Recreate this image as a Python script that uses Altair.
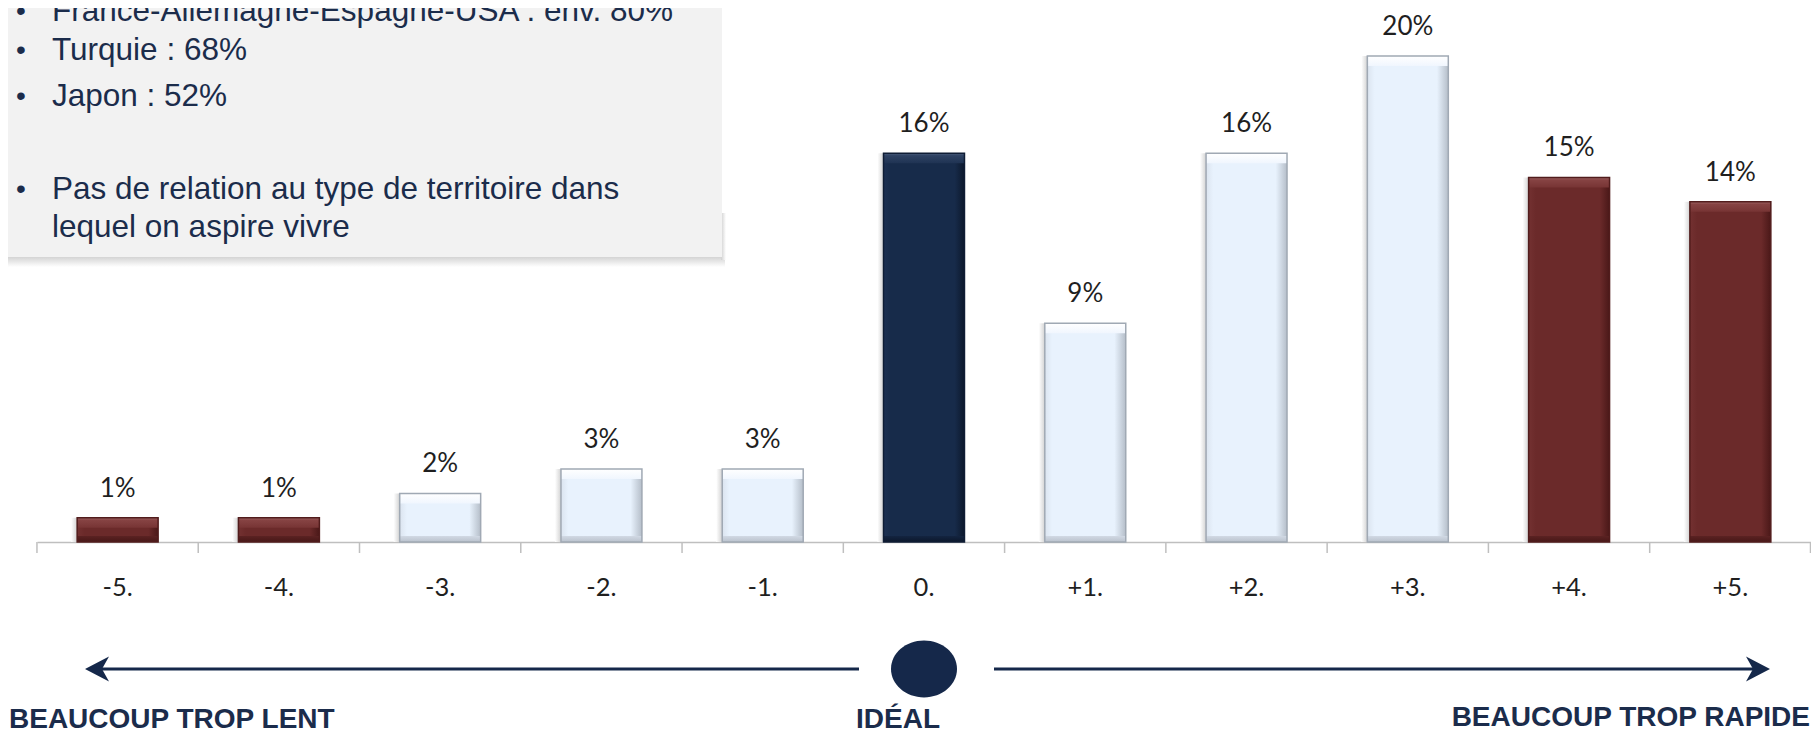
import altair as alt
import pandas as pd

# ---------------- data ----------------
levels = ["-5.", "-4.", "-3.", "-2.", "-1.", "0.", "+1.", "+2.", "+3.", "+4.", "+5."]
shares = [1, 1, 2, 3, 3, 16, 9, 16, 20, 15, 14]
share_labels = ["1%", "1%", "2%", "3%", "3%", "16%", "9%", "16%", "20%", "15%", "14%"]
box_lines = [
    "France-Allemagne-Espagne-USA : env. 80%",
    "Turquie : 68%",
    "Japon : 52%",
    "Pas de relation au type de territoire dans",
    "lequel on aspire vivre",
]
box_bullet_rows = [0, 1, 2, 3]
left_caption = "BEAUCOUP TROP LENT"
mid_caption = "IDÉAL"
right_caption = "BEAUCOUP TROP RAPIDE"


def group_of(i):
    d = abs(i - 5)
    if d == 0:
        return "ideal"
    if d >= 4:
        return "extreme"
    return "moderate"


df = pd.DataFrame({
    "level": levels,
    "share": shares,
    "label": share_labels,
    "group": [group_of(i) for i in range(len(levels))],
})

# ---------------- layout ----------------
W, H = 1774, 534
NAVY = "#15284a"
TEXT_NAVY = "#1b2c4b"

x_axis = alt.Axis(title=None, labelAngle=0, ticks=False, tickSize=0,
                  labelPadding=53, labelBaseline="alphabetic",
                  labelFont="Lato", labelFontSize=25.5, labelColor="#1f1f1f",
                  domainColor="#bfbfbf", domainWidth=1.5)
x_scale = alt.Scale(paddingInner=0.498, paddingOuter=0.249)
x_enc = alt.X("level:N", sort=levels, scale=x_scale, axis=x_axis)
y_enc = alt.Y("share:Q", scale=alt.Scale(domain=[0, 21.975], nice=False), axis=None)
base = alt.Chart(df)


def grad(stops, horizontal=True):
    return alt.Gradient(
        gradient="linear", x1=0, x2=1 if horizontal else 0, y1=0, y2=0 if horizontal else 1,
        stops=[alt.GradientStop(color=c, offset=o) for o, c in stops])


styles = {
    "moderate": dict(
        body=[(0, "#dbe4ef"), (0.09, "#e8f2fd"), (0.86, "#e8f2fd"), (1, "#b5bec9")],
        top=[(0, "#ffffff"), (1, "#f0f6fe")],
        bottom=[(0, "#d1d9e4"), (1, "#bac2cd")],
        stroke="#a0a9b4"),
    "ideal": dict(
        body=[(0, "#1c3052"), (0.09, "#172b4a"), (0.88, "#172b4a"), (1, "#0c182c")],
        top=[(0, "#4c5e7c"), (0.25, "#2e4263"), (1, "#1f3353")],
        bottom=[(0, "#132440"), (1, "#0c172b")],
        stroke="#0f1d35"),
    "extreme": dict(
        body=[(0, "#733131"), (0.09, "#6b2a2a"), (0.88, "#6b2a2a"), (1, "#4a1818")],
        top=[(0, "#a26767"), (0.25, "#864343"), (1, "#773434")],
        bottom=[(0, "#5b2222"), (1, "#481818")],
        stroke="#511c1c"),
}

shadow = base.mark_bar(
    xOffset=-6,
    color=grad([(0, "#ffffff"), (0.08, "#cfcfcf"), (0.2, "#e8e8e8"), (1, "#e8e8e8")]),
).encode(x=x_enc, y=y_enc, y2=alt.datum(0))

bar_layers = [shadow]
for g, s in styles.items():
    sub = base.transform_filter(alt.datum.group == g)
    bar_layers.append(
        sub.mark_bar(color=grad(s["body"]))
        .encode(x=x_enc, y=y_enc, y2=alt.datum(0)))
    bar_layers.append(
        sub.mark_bar(color=grad(s["top"], horizontal=False), y2Offset=10)
        .encode(x=x_enc, y=y_enc, y2=alt.Y2("share:Q")))
    bar_layers.append(
        sub.mark_bar(color=grad(s["bottom"], horizontal=False))
        .encode(x=x_enc, y=alt.value(H - 6), y2=alt.value(H)))
    bar_layers.append(
        sub.mark_bar(fillOpacity=0, stroke=s["stroke"], strokeWidth=1.5)
        .encode(x=x_enc, y=y_enc, y2=alt.datum(0)))

labels = base.mark_text(dy=-21, baseline="alphabetic", font="Lato", fontSize=26,
                        color="#1f1f1f").encode(x=x_enc, y=y_enc, text="label:N")

ticks = base.mark_rule(color="#bfbfbf", strokeWidth=1.5, xOffset=-40.2).encode(
    x=alt.X("level:N", sort=levels, bandPosition=0, scale=x_scale, axis=x_axis),
    y=alt.value(H), y2=alt.value(H + 11))

one = alt.InlineData(values=[{"k": 0}])
end_tick = alt.Chart(one).mark_rule(color="#bfbfbf", strokeWidth=1.5).encode(
    x=alt.value(W - 0.5), y=alt.value(H), y2=alt.value(H + 11))

# grey text box with shadow
box_shadow = alt.Chart(one).mark_rect(
    color=grad([(0, "#9c9c9c"), (0.45, "#d2d2d2"), (1, "#ffffff")], horizontal=False)
).encode(x=alt.value(-37), x2=alt.value(688), y=alt.value(240), y2=alt.value(259))
box_side = alt.Chart(one).mark_rect(
    color=grad([(0, "#d0d0d0"), (1, "#ffffff")])
).encode(x=alt.value(684), x2=alt.value(689), y=alt.value(205), y2=alt.value(252))
box = alt.Chart(one).mark_rect(color="#f2f2f2").encode(
    x=alt.value(-37), x2=alt.value(685), y=alt.value(-8), y2=alt.value(249))

line_y = [13, 52, 98, 191, 229]
text_layers = []
for i, t in enumerate(box_lines):
    text_layers.append(
        alt.Chart(one).mark_text(text=t, align="left", baseline="alphabetic",
                                 font="Liberation Sans", fontSize=31.5, color=TEXT_NAVY)
        .encode(x=alt.value(15), y=alt.value(line_y[i])))
    if i in box_bullet_rows:
        text_layers.append(
            alt.Chart(one).mark_text(text="•", align="center", baseline="alphabetic",
                                     font="Liberation Sans", fontSize=28, color=TEXT_NAVY)
            .encode(x=alt.value(-16), y=alt.value(line_y[i] - 1)))

# arrows and ideal dot
AY = 661
left_line = alt.Chart(one).mark_rule(color=NAVY, strokeWidth=3).encode(
    x=alt.value(56), x2=alt.value(822), y=alt.value(AY))
right_line = alt.Chart(one).mark_rule(color=NAVY, strokeWidth=3).encode(
    x=alt.value(957), x2=alt.value(1726), y=alt.value(AY))
left_head = alt.Chart(one).mark_point(
    shape="M -1 0 L 0.92 -1 L 0.36 0 L 0.92 1 Z", filled=True, size=625,
    color=NAVY, opacity=1, strokeWidth=0).encode(x=alt.value(60.5), y=alt.value(AY))
right_head = alt.Chart(one).mark_point(
    shape="M 1 0 L -0.92 -1 L -0.36 0 L -0.92 1 Z", filled=True, size=625,
    color=NAVY, opacity=1, strokeWidth=0).encode(x=alt.value(1720.5), y=alt.value(AY))
dot = alt.Chart(one).mark_point(
    shape="M -1 0 A 1 0.86 0 1 1 1 0 A 1 0.86 0 1 1 -1 0 Z", filled=True, size=4356,
    color=NAVY, opacity=1, strokeWidth=0).encode(x=alt.value(887), y=alt.value(AY))

cap_style = dict(baseline="alphabetic", font="Liberation Sans", fontWeight="bold",
                 fontSize=28, color=TEXT_NAVY)
cap_left = alt.Chart(one).mark_text(text=left_caption, align="left", **cap_style).encode(
    x=alt.value(-28), y=alt.value(720))
cap_mid = alt.Chart(one).mark_text(text=mid_caption, align="center", **cap_style).encode(
    x=alt.value(861), y=alt.value(720))
cap_right = alt.Chart(one).mark_text(text=right_caption, align="right", **cap_style).encode(
    x=alt.value(W - 1), y=alt.value(718))

chart = alt.layer(
    box_shadow, box_side, box, *text_layers,
    *bar_layers, labels, ticks, end_tick,
    left_line, right_line, left_head, right_head, dot,
    cap_left, cap_mid, cap_right,
).properties(
    width=W, height=H,
    padding={"left": 29, "right": 0, "top": 0, "bottom": 194},
    autosize=alt.AutoSizeParams(type="none"),
    background="white",
).configure_view(stroke=None)

chart.save("out.html", embed_options={"renderer": "svg", "actions": False})
